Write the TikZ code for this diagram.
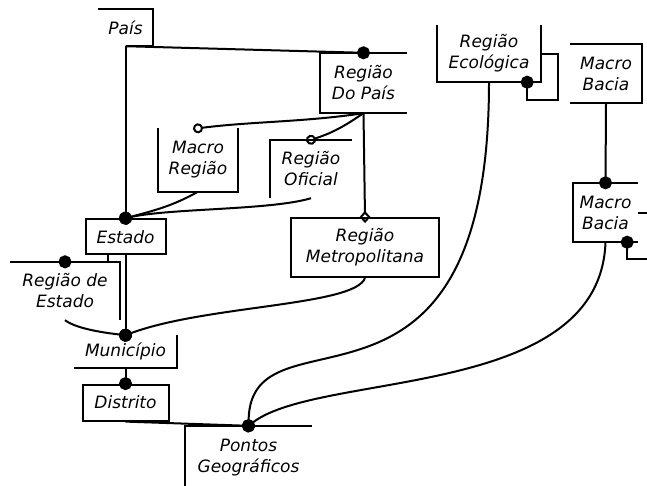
\documentclass[tikz,border=0pt]{standalone}
\usepackage{fontspec}
\setmainfont{DejaVu Sans}
\usetikzlibrary{arrows.meta,positioning}
\tikzset{
  entity/.style={
    align=center,
    inner sep=0pt,
    font=\fontsize{17}{21}\selectfont\itshape
  },
  fullbox/.style={entity, draw, line width=2pt},
  rim/.style={line width=2pt},
  rel/.style={line width=2pt},
  dotend/.style={rel, -{Circle[length=13pt]}, shorten >=-6.5pt},
  ringend/.style={rel, -{Circle[open,length=10pt]}, shorten >=-5pt},
  diamondend/.style={rel, -{Diamond[open,length=12pt,width=11pt]}, shorten >=-6pt},
}

\begin{document}
\begin{tikzpicture}[x=1pt, y=-1pt]
\useasboundingbox (0,0) rectangle (647,485);

% Territorial column
\node[entity, minimum width=55pt, minimum height=37pt] (pais) at (125.5,27.5) {País};
\node[fullbox, minimum width=80pt, minimum height=35pt, below=172pt of pais] (estado) {Estado};
\node[entity, minimum width=103pt, minimum height=32pt, below=80pt of estado] (municipio) {Município};
\node[fullbox, minimum width=86pt, minimum height=36pt, below=16pt of municipio] (distrito) {Distrito};
\node[entity, minimum width=127pt, minimum height=64pt] (pontos) at (248.5,458) {Pontos\\Geográficos};

% Regions
\node[entity, minimum width=87pt, minimum height=60pt] (regpais) at (363.5,83) {Região\\Do País};
\node[entity, minimum width=80pt, minimum height=63pt] (macroreg) at (198,160) {Macro\\Região};
\node[entity, minimum width=82pt, minimum height=58pt] (regoficial) at (311,169) {Região\\Oficial};
\node[fullbox, minimum width=148pt, minimum height=59pt] (regmetro) at (365,247.5) {Região\\Metropolitana};
\node[entity, minimum width=110pt, minimum height=58pt] (regestado) at (65,291) {Região de\\Estado};

% Ecology and basins
\node[entity, minimum width=104pt, minimum height=57pt] (regeco) at (489,53.5) {Região\\Ecológica};
\node[entity, minimum width=72pt, minimum height=59pt] (macrobacia1) at (606,73.5) {Macro\\Bacia};
\node[entity, minimum width=65pt, minimum height=59pt] (macrobacia2) at (605.5,212.5) {Macro\\Bacia};

% Open box outlines
\draw[rim] (pais.north west) -- (pais.north east) -- (pais.south east) -- (pais.south);
\draw[rim] (regpais.north east) -- (regpais.north west) -- (regpais.south west) -- (regpais.south east);
\draw[rim] (macroreg.north west) -- (macroreg.south west) -- (macroreg.south east) -- (macroreg.north east);
\draw[rim] (regoficial.north east) -- (regoficial.north west) -- (regoficial.south west);
\draw[rim] (regestado.north west) -- (regestado.north east) -- (regestado.south east);
\draw[rim] (municipio.north east) -- (municipio.south east) -- (municipio.south west);
\draw[rim] (pontos.north east) -- (pontos.north west) -- (pontos.south west);
\draw[rim] (regeco.north west) -- (regeco.south west) -- (regeco.south east) -- (regeco.north east);
\draw[rim] (macrobacia1.north west) -- (macrobacia1.north east) -- (macrobacia1.south east) -- (macrobacia1.south west);
\draw[rim] (macrobacia2.north east) -- (macrobacia2.north west) -- (macrobacia2.south west) -- (macrobacia2.south east);

% Relationships
\draw[dotend] (pais.south) -- (estado.north);
\draw[dotend] (pais.south) -- (regpais.north);
\draw[diamondend] (regpais.south) -- (regmetro.north);
\draw[ringend] (regpais.south) .. controls +(-60,9) and +(55,-7) .. (macroreg.north);
\draw[ringend] (regpais.south) .. controls +(-15,10) and +(25,-8) .. (regoficial.north);
\draw[dotend] (macroreg.south) .. controls +(-25,14) and +(30,-8) .. (estado.north);
\draw[dotend] (regoficial.south) .. controls +(-40,12) and +(45,-10) .. (estado.north);
\draw[dotend] ([xshift=-18pt]estado.south) |- (regestado.north);
\draw[dotend] (estado.south) -- (municipio.north);
\draw[dotend] (regestado.south) .. controls +(8,6) and +(-35,-4) .. (municipio.north);
\draw[dotend] (regmetro.south) .. controls +(-10,28) and +(80,-30) .. (municipio.north);
\draw[dotend] (municipio.south) -- (distrito.north);
\draw[dotend] (distrito.south) -- (pontos.north);
\draw[dotend] (regeco.south) .. controls +(0,374) and +(2,-127) .. (pontos.north);
\draw[dotend] (macrobacia2.south) .. controls +(-5.5,158) and +(72,-55) .. (pontos.north);
\draw[dotend] (macrobacia1.south) -- (macrobacia2.north);

% Self relationships
\draw[dotend] (regeco.east) -- ++(17,0) -- ++(0,46.5) -| ([xshift=-14pt]regeco.south east);
\draw[dotend] (macrobacia2.east) -- ++(20,0) -- ++(0,46) -| ([xshift=-11pt]macrobacia2.south east);

\end{tikzpicture}
\end{document}
